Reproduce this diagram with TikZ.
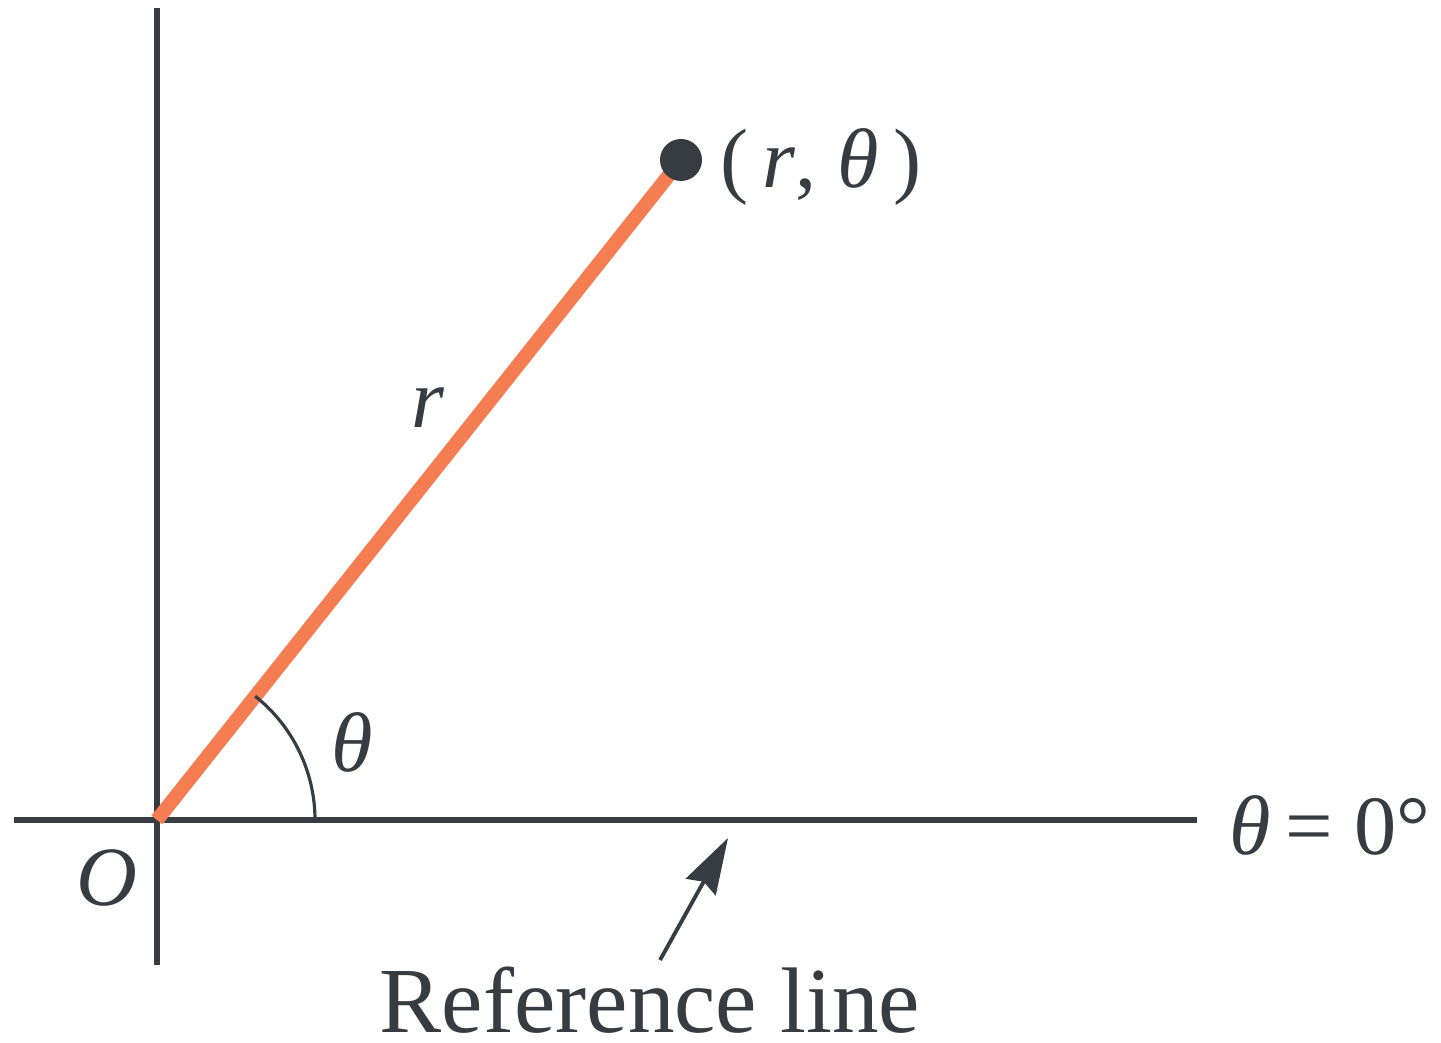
\documentclass[tikz,border=0pt]{standalone}
\usepackage{fontspec}
\setmainfont{Liberation Serif}
\usetikzlibrary{arrows.meta,positioning,calc}
\definecolor{ink}{RGB}{55,60,66}
\definecolor{coral}{RGB}{245,125,82}
\tikzset{
  axis/.style={draw=ink,line width=1.5pt},
  radius line/.style={draw=coral,line width=4pt},
  angle arc/.style={draw=ink,line width=0.9pt},
  pointer/.style={draw=ink,line width=1.1pt,-{Stealth[length=5.6mm,width=3.4mm,inset=0.6mm]}},
  lbl/.style={text=ink,font=\fontsize{24}{28}\selectfont,inner sep=1pt},
}
\begin{document}
\begin{tikzpicture}
  \useasboundingbox (-1.57,-2.23) rectangle (12.84,8.20);
  % axes
  \coordinate (O) at (0,0);
  \coordinate (P) at (5.24,6.60);
  \draw[axis] (0,8.12) -- (0,-1.45);
  \draw[axis] (-1.43,0) -- (10.40,0);
  % radius and point
  \draw[radius line] (O) -- (P);
  \fill[ink] (P) circle (0.21);
  \draw[angle arc] (1.58,0) arc (0:51.55:1.58);
  % labels
  \node[lbl] (pt) at (6.64,6.53) {(\,\textit{r}, \textit{θ}\,)};
  \node[lbl] (rl) at (2.71,4.12) {\textit{r}};
  \node[lbl] (th) at (1.95,0.78) {\textit{θ}};
  \node[lbl] (o) at (-0.50,-0.58) {\textit{O}};
  \node[lbl] (zero) at (11.73,-0.05) {\textit{θ}\,= 0°};
  \node[lbl,font=\fontsize{26.5}{30}\selectfont,inner sep=0pt] (ref) at (4.93,-1.80) {Reference line};
  \coordinate (tip) at (5.71,-0.18);
  \draw[pointer] ([xshift=1mm,yshift=0.6mm]ref.north) -- (tip);
\end{tikzpicture}
\end{document}
